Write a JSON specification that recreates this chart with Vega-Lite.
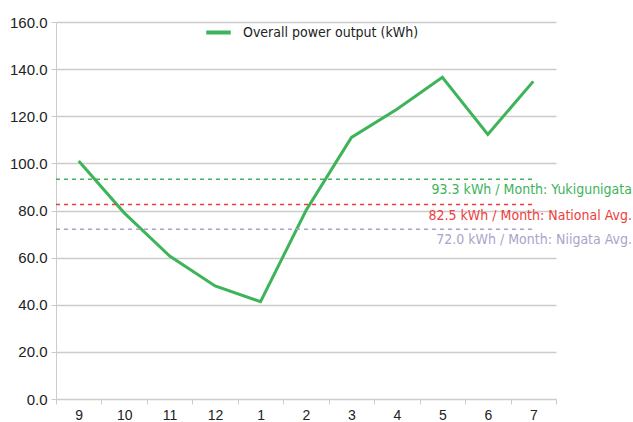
{
  "$schema": "https://vega.github.io/schema/vega-lite/v6.json",
  "width": 500,
  "height": 377,
  "autosize": {"type": "none"},
  "padding": {"left": 56, "top": 22, "right": 77, "bottom": 23},
  "background": "white",
  "config": {
    "view": {"stroke": null},
    "font": "Liberation Sans",
    "axis": {"labelFont": "Liberation Sans", "labelColor": "#222222"}
  },
  "datasets": {
    "output": [
      {"month": "9", "kwh": 101},
      {"month": "10", "kwh": 79},
      {"month": "11", "kwh": 60.7},
      {"month": "12", "kwh": 48},
      {"month": "1", "kwh": 41.3},
      {"month": "2", "kwh": 80},
      {"month": "3", "kwh": 111},
      {"month": "4", "kwh": 123},
      {"month": "5", "kwh": 136.5},
      {"month": "6", "kwh": 112.3},
      {"month": "7", "kwh": 134.8}
    ],
    "refs": [
      {"value": 93.3, "series": "Yukigunigata", "label": "93.3 kWh / Month: Yukigunigata"},
      {"value": 82.5, "series": "National Avg.", "label": "82.5 kWh / Month: National Avg."},
      {"value": 72.0, "series": "Niigata Avg.", "label": "72.0 kWh / Month: Niigata Avg."}
    ]
  },
  "encoding": {
    "x": {
      "field": "month", "type": "ordinal",
      "scale": {"domain": ["9","10","11","12","1","2","3","4","5","6","7"], "paddingInner": 0, "paddingOuter": 0},
      "axis": {
        "title": null, "labelAngle": 0, "labelFontSize": 14, "labelPadding": 4,
        "tickBand": "extent", "domainColor": "#cccccc", "tickColor": "#cccccc", "tickSize": 5, "grid": false
      }
    }
  },
  "layer": [
    {
      "data": {"name": "output"},
      "mark": {"type": "line", "strokeWidth": 3},
      "encoding": {
        "y": {
          "field": "kwh", "type": "quantitative",
          "scale": {"domain": [0, 160]},
          "axis": {
            "title": null, "values": [0,20,40,60,80,100,120,140,160], "format": ".1f",
            "labelFontSize": 15, "labelPadding": 4, "tickSize": 5, "tickColor": "#cccccc",
            "domainColor": "#cccccc", "gridColor": "#cccccc", "gridWidth": 1.5
          }
        },
        "color": {
          "datum": "Overall power output (kWh)",
          "scale": {
            "domain": ["Overall power output (kWh)", "Yukigunigata", "National Avg.", "Niigata Avg."],
            "range": ["#3db35a", "#3db35a", "#f03c3c", "#aaa4c9"]
          },
          "legend": {
            "title": null, "orient": "none", "legendX": 148, "legendY": -4,
            "values": ["Overall power output (kWh)"],
            "symbolType": "stroke", "symbolStrokeWidth": 4, "symbolSize": 600,
            "labelFont": "DejaVu Sans Condensed, Roboto, sans-serif", "labelFontSize": 14,
            "labelColor": "#222222", "labelLimit": 400, "labelOffset": 10
          }
        }
      }
    },
    {
      "data": {"name": "refs"},
      "mark": {"type": "rule", "strokeDash": [4, 4], "strokeWidth": 1.5},
      "encoding": {
        "x": {"datum": "9", "bandPosition": 0},
        "x2": {"datum": "7", "bandPosition": 0.5},
        "y": {"field": "value", "type": "quantitative"},
        "color": {"field": "series", "type": "nominal", "legend": null}
      }
    },
    {
      "data": {"name": "refs"},
      "mark": {"type": "text", "align": "right", "baseline": "middle", "dx": 76, "dy": 11, "fontSize": 14, "font": "DejaVu Sans Condensed, Roboto, sans-serif"},
      "encoding": {
        "x": {"datum": "7", "bandPosition": 1},
        "y": {"field": "value", "type": "quantitative"},
        "text": {"field": "label"},
        "color": {"field": "series", "type": "nominal", "legend": null}
      }
    }
  ]
}
